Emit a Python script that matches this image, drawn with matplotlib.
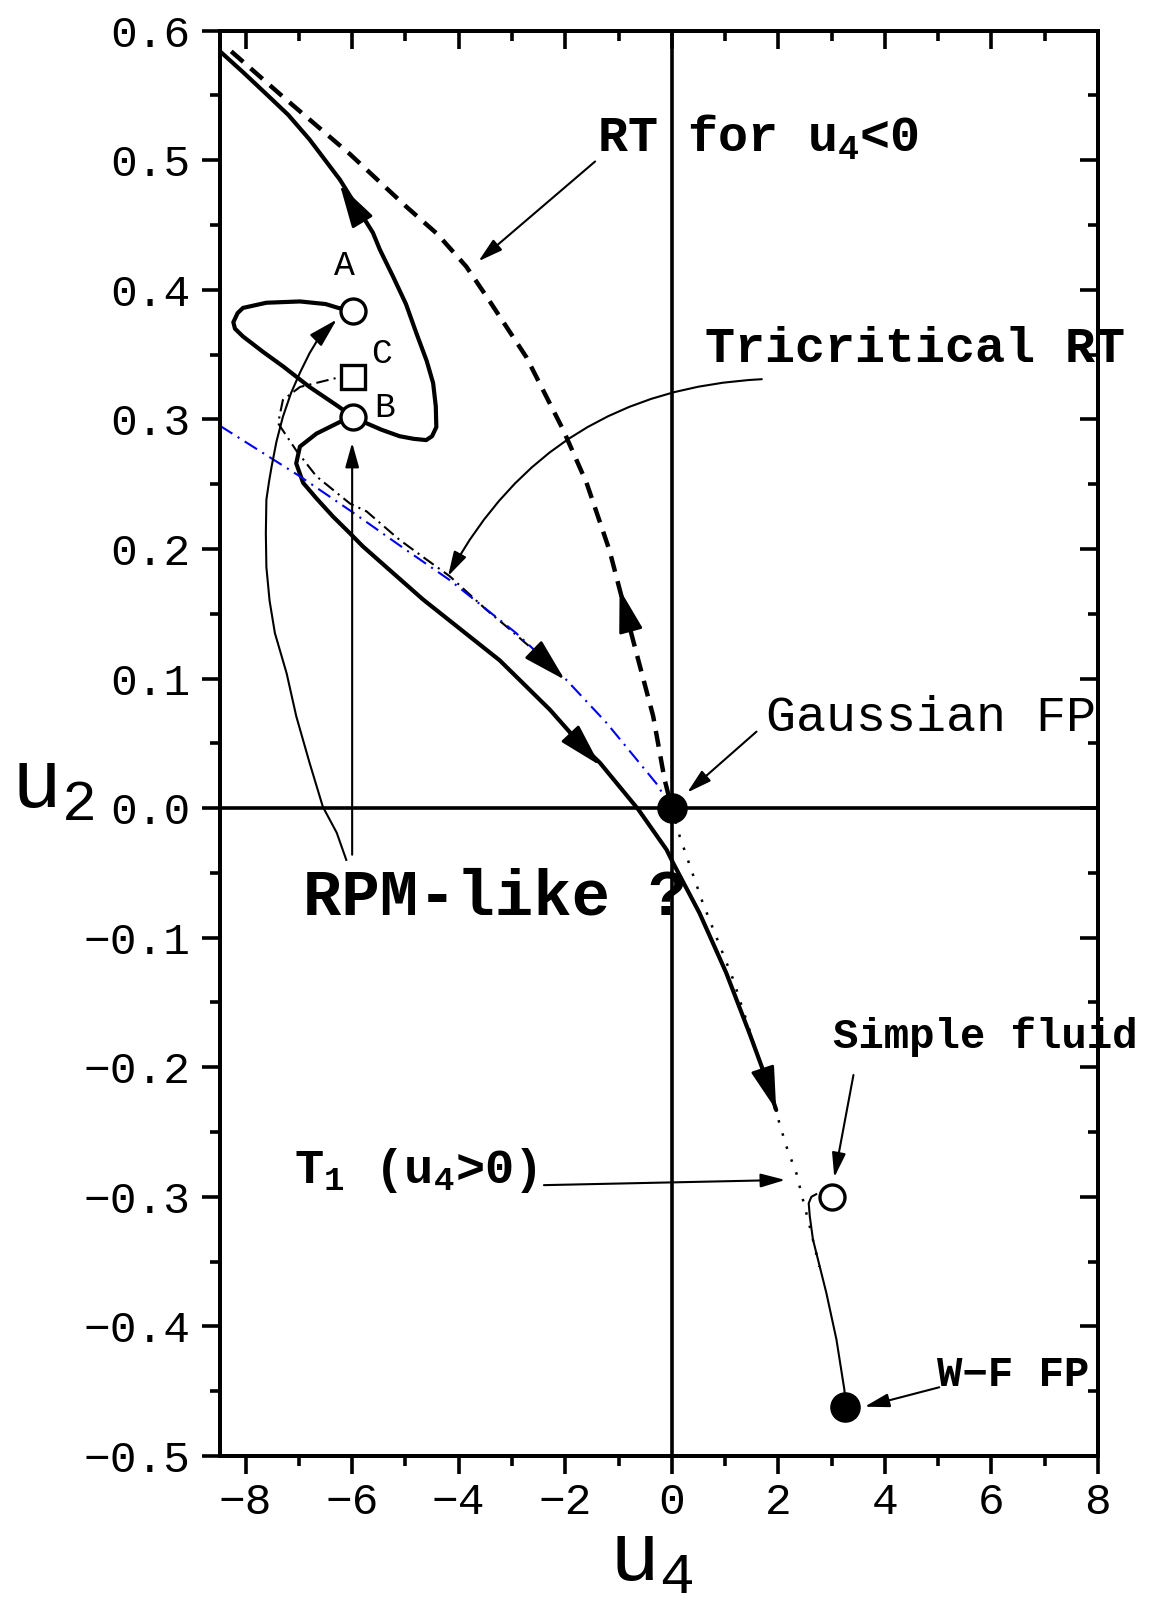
import numpy as np
import matplotlib
matplotlib.use('Agg')
import matplotlib.pyplot as plt
from matplotlib.ticker import FuncFormatter

plt.rcParams['font.family'] = ['Liberation Mono', 'DejaVu Sans']
plt.rcParams['mathtext.fontset'] = 'custom'
plt.rcParams['mathtext.rm'] = 'Liberation Mono'
plt.rcParams['mathtext.bf'] = 'Liberation Mono:bold'
plt.rcParams['mathtext.default'] = 'regular'

# --- data (u4, u2) ---
# thick RG trajectory: top-left, down into the loop, ending at B
up_x = [-8.48, -8.05, -7.61, -7.20, -6.80, -6.23, -5.61, -5.48, -5.23, -4.99, -4.79,
        -4.60, -4.48, -4.43, -4.42, -4.50, -4.61, -4.85, -5.11, -5.45, -5.73, -5.99]
up_y = [0.584, 0.568, 0.551, 0.535, 0.516, 0.485, 0.444, 0.431, 0.410, 0.389, 0.366,
        0.345, 0.328, 0.310, 0.294, 0.287, 0.284, 0.285, 0.287, 0.292, 0.297, 0.302]
# loop from B to A
loop_x = [-5.99, -6.26, -6.80, -7.30, -7.67, -8.05, -8.20, -8.23, -8.15, -8.05, -7.61,
          -6.98, -6.50, -6.26, -5.99]
loop_y = [0.302, 0.310, 0.325, 0.341, 0.352, 0.364, 0.370, 0.375, 0.382, 0.386, 0.390,
          0.391, 0.389, 0.386, 0.384]
# lower branch from B through the Gaussian region
low_x = [-5.99, -6.23, -6.67, -6.98, -7.05, -6.92, -6.67, -6.36, -6.04, -5.80, -4.67,
         -3.23, -2.29, -1.73, -1.35, -0.63, -0.10, 0.02, 0.52, 1.02, 1.46, 1.71, 1.96]
low_y = [0.302, 0.298, 0.289, 0.279, 0.266, 0.251, 0.239, 0.225, 0.212, 0.202, 0.161,
         0.114, 0.076, 0.050, 0.035, -0.001, -0.032, -0.042, -0.081, -0.127, -0.174,
         -0.202, -0.233]
# RT for u4<0 (dashed)
rt_x = [-8.27, -7.30, -6.05, -4.98, -4.40, -3.86, -3.48, -2.73, -2.04, -1.60, -1.17,
        -0.98, -0.73, -0.35, -0.135, 0.0]
rt_y = [0.584, 0.549, 0.505, 0.464, 0.443, 0.418, 0.395, 0.348, 0.292, 0.251, 0.199,
        0.169, 0.130, 0.071, 0.022, 0.0]
# tricritical RT (black dash-dot) starting at C
tc_x = [-5.98, -6.29, -6.98, -7.30, -7.39, -7.05, -6.67, -6.04, -5.73, -5.11, -4.61,
        -4.17, -3.48, -3.10, -2.54]
tc_y = [0.333, 0.332, 0.325, 0.315, 0.297, 0.276, 0.256, 0.235, 0.229, 0.207, 0.192,
        0.179, 0.153, 0.140, 0.120]
# blue dash-dot
blue_x = [-8.48, -7.48, -6.98, -5.98, -4.98, -4.17, -2.92, -1.98, -1.23, -0.29, 0.0]
blue_y = [0.295, 0.269, 0.256, 0.228, 0.199, 0.176, 0.135, 0.099, 0.066, 0.019, 0.0]
# T1 (u4>0), dotted
t1_x = [0.0, 0.15, 0.58, 1.15, 1.99, 2.15, 2.34, 2.46, 2.59, 2.77]
t1_y = [0.0, -0.022, -0.073, -0.132, -0.239, -0.261, -0.282, -0.302, -0.323, -0.354]
# simple fluid -> W-F FP (thin solid)
sf_x = [2.71, 2.62, 2.57, 2.59, 2.65, 2.90, 3.09, 3.24, 3.26]
sf_y = [-0.298, -0.300, -0.305, -0.315, -0.333, -0.374, -0.410, -0.449, -0.462]
# curved pointer from "RPM-like" to A
rpm_x = [-6.11, -6.29, -6.55, -6.80, -7.05, -7.23, -7.45, -7.55, -7.61, -7.62, -7.61,
         -7.56, -7.51, -7.42, -7.30, -7.15, -6.98, -6.80, -6.61]
rpm_y = [-0.040, -0.019, 0.001, 0.035, 0.071, 0.104, 0.135, 0.160, 0.186, 0.212, 0.238,
         0.252, 0.264, 0.283, 0.302, 0.320, 0.336, 0.351, 0.364]

# points
pt_A = (-5.99, 0.384)
pt_B = (-5.99, 0.302)
pt_C = (-5.98, 0.333)
gauss = (0.0, 0.0)
simple = (3.00, -0.300)
wf = (3.26, -0.462)

# flow arrowheads: (base, tip)
flow_arrows = [((-5.86, 0.456), (-6.23, 0.481)),
               ((-1.92, 0.058), (-1.35, 0.033)),
               ((1.71, -0.202), (1.96, -0.233)),
               ((-0.79, 0.140), (-0.98, 0.169)),
               ((-2.54, 0.120), (-2.01, 0.099))]

xt_major = np.arange(-8, 9, 2)
xt_minor = np.arange(-7, 8, 2)
yt_major = np.round(np.arange(-0.5, 0.61, 0.1), 2)
yt_minor = np.round(np.arange(-0.45, 0.6, 0.1), 3)
xlim = (-8.48, 8.0)
ylim = (-0.5, 0.6)


def fmt(v, pos, nd):
    s = f'{v:.{nd}f}'
    if float(s) == 0:
        s = f'{0:.{nd}f}'
    return s.replace('-', '\u2212')


fig = plt.figure(figsize=(11.49, 16.04), dpi=100)
ax = fig.add_axes([0.1915, 0.0923, 0.7641, 0.8886])
ax.set_xlim(xlim)
ax.set_ylim(ylim)

ax.axhline(0, color='k', lw=2.6, zorder=1)
ax.axvline(0, color='k', lw=2.6, zorder=1)

ax.plot(up_x, up_y, color='k', lw=3.0, solid_capstyle='round', solid_joinstyle='round')
ax.plot(loop_x, loop_y, color='k', lw=3.0, solid_capstyle='round', solid_joinstyle='round')
ax.plot(low_x, low_y, color='k', lw=3.0, solid_capstyle='round', solid_joinstyle='round')
ax.plot(rt_x, rt_y, color='k', lw=3.2, dashes=(3.6, 2.2))
ax.plot(tc_x, tc_y, color='k', lw=1.5, dashes=(6, 2.5, 1, 2.5))
ax.plot(blue_x, blue_y, color='#0000ee', lw=1.5, dashes=(7, 3, 1, 3))
ax.plot(t1_x, t1_y, color='k', lw=1.8, dashes=(1, 4.5))
ax.plot(sf_x, sf_y, color='k', lw=1.5)
ax.plot(rpm_x, rpm_y, color='k', lw=1.5, solid_joinstyle='round')

for base, tip in flow_arrows:
    ax.annotate('', xy=tip, xytext=base,
                arrowprops=dict(arrowstyle='-|>,head_length=2.7,head_width=0.75',
                                mutation_scale=10, lw=2.0, color='k',
                                shrinkA=0, shrinkB=0))

small = dict(arrowstyle='-|>,head_length=1.5,head_width=0.42', mutation_scale=10,
             lw=1.5, color='k', shrinkA=0, shrinkB=0)
# pointer heads/lines
ax.annotate('', xy=(-6.29, 0.377), xytext=(rpm_x[-1], rpm_y[-1]),
            arrowprops=dict(small, arrowstyle='-|>,head_length=1.8,head_width=0.5'))
ax.annotate('', xy=(-6.0, 0.282), xytext=(-6.0, -0.036), arrowprops=small)
ax.annotate('', xy=(-3.63, 0.422), xytext=(-1.44, 0.499), arrowprops=small)
ax.annotate('', xy=(-4.20, 0.179), xytext=(1.69, 0.331),
            arrowprops=dict(small, connectionstyle='arc3,rad=0.28'))
ax.annotate('', xy=(0.29, 0.012), xytext=(1.59, 0.059), arrowprops=small)
ax.annotate('', xy=(3.05, -0.285), xytext=(3.41, -0.206), arrowprops=small)
ax.annotate('', xy=(2.13, -0.287), xytext=(-2.40, -0.291), arrowprops=small)
ax.annotate('', xy=(3.62, -0.462), xytext=(5.02, -0.447), arrowprops=small)

# markers
for p in (pt_A, pt_B, simple):
    ax.plot(*p, 'o', ms=18, mfc='white', mec='k', mew=2.4, zorder=5)
ax.plot(*pt_C, 's', ms=17, mfc='white', mec='k', mew=2.4, zorder=5)
for p in (gauss, wf):
    ax.plot(*p, 'o', ms=21, mfc='k', mec='k', mew=1, zorder=5)

# texts
ax.text(-1.41, 0.5066, 'RT for u$_4$<0', fontsize=36, fontweight='bold', va='baseline')
ax.text(0.62, 0.3446, 'Tricritical RT', fontsize=36, fontweight='bold', va='baseline')
ax.text(1.77, 0.0592, 'Gaussian FP', fontsize=36, va='baseline')
ax.text(-6.93, -0.0823, 'RPM-like ?', fontsize=46, fontweight='bold', va='baseline')
ax.text(3.03, -0.185, 'Simple fluid', fontsize=30.5, fontweight='bold', va='baseline',
        clip_on=False)
ax.text(4.98, -0.446, 'W\u2212F FP', fontsize=30.5, fontweight='bold', va='baseline')
ax.text(-7.1, -0.2897, 'T$_1$ (u$_4$>0)', fontsize=35, fontweight='bold', va='baseline')
ax.text(-6.14, 0.4115, 'A', fontsize=25, ha='center', va='baseline')
ax.text(-5.45, 0.3433, 'C', fontsize=25, ha='center', va='baseline')
ax.text(-5.39, 0.302, 'B', fontsize=25, ha='center', va='baseline')

# axis labels
ax.text(0.4915, -0.0877, 'u$_4$', fontsize=60, ha='center', va='baseline',
        transform=ax.transAxes)
ax.text(-0.1908, 0.4545, 'u$_2$', fontsize=60, ha='center', va='baseline',
        transform=ax.transAxes)

# ticks: bottom/left outward with labels
ax.set_xticks(xt_major)
ax.set_xticks(xt_minor, minor=True)
ax.set_yticks(yt_major)
ax.set_yticks(yt_minor, minor=True)
ax.xaxis.set_major_formatter(FuncFormatter(lambda v, p: fmt(v, p, 0)))
ax.yaxis.set_major_formatter(FuncFormatter(lambda v, p: fmt(v, p, 1)))
ax.tick_params(which='major', direction='out', length=13, width=2.6, labelsize=32)
ax.tick_params(which='minor', direction='out', length=7, width=2.6)
ax.tick_params(axis='x', which='major', pad=6)
ax.tick_params(axis='y', which='major', pad=8)
for s in ax.spines.values():
    s.set_linewidth(2.8)

# top/right ticks pointing inward
ax_t = ax.twiny()
ax_t.set_xlim(xlim)
ax_t.set_xticks(xt_major)
ax_t.set_xticks(xt_minor, minor=True)
ax_t.tick_params(which='major', direction='in', length=13, width=2.6, labeltop=False)
ax_t.tick_params(which='minor', direction='in', length=7, width=2.6)
ax_r = ax.twinx()
ax_r.set_ylim(ylim)
ax_r.set_yticks(yt_major)
ax_r.set_yticks(yt_minor, minor=True)
ax_r.tick_params(which='major', direction='in', length=13, width=2.6, labelright=False)
ax_r.tick_params(which='minor', direction='in', length=7, width=2.6)
for a in (ax_t, ax_r):
    for s in a.spines.values():
        s.set_linewidth(2.8)

fig.savefig('out.png', dpi=100)
